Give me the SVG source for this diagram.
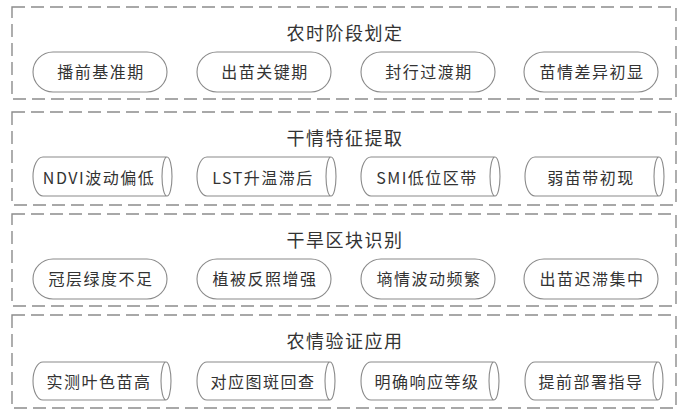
<svg xmlns="http://www.w3.org/2000/svg" width="678" height="411" viewBox="0 0 678 411">
<defs>
<style>
.panel{fill:#ffffff;stroke:#8c8c8c;stroke-width:1.4;stroke-dasharray:13 6}
.pill{fill:#ffffff;stroke:#8a8a8a;stroke-width:1.1}
.cyl{fill:#ffffff;stroke:#8a8a8a;stroke-width:1.1}
.title{font-family:"Noto Sans CJK SC","Noto Sans",sans-serif;font-size:18px;fill:#333333;text-anchor:middle;letter-spacing:1.5px}
.lbl{font-family:"Noto Sans CJK SC","Noto Sans",sans-serif;font-size:16px;fill:#333333;text-anchor:middle;letter-spacing:1.5px}
</style>
</defs>
<rect width="678" height="411" fill="#ffffff"/>
<g id="connectors"></g>

<g id="panel1">
<rect class="panel" x="12" y="7" width="664" height="92"/>
<text class="title" x="345" y="40">农时阶段划定</text>
</g>
<g id="p1n1"><rect class="pill" x="33" y="52" width="134" height="40" rx="20"/><text class="lbl" x="101" y="78">播前基准期</text></g>
<g id="p1n2"><rect class="pill" x="197" y="52" width="134" height="40" rx="20"/><text class="lbl" x="265" y="78">出苗关键期</text></g>
<g id="p1n3"><rect class="pill" x="361" y="52" width="134" height="40" rx="20"/><text class="lbl" x="429" y="78">封行过渡期</text></g>
<g id="p1n4"><rect class="pill" x="524" y="52" width="134" height="40" rx="20"/><text class="lbl" x="592" y="78">苗情差异初显</text></g>

<g id="panel2">
<rect class="panel" x="12" y="112" width="664" height="93"/>
<text class="title" x="345" y="145">干情特征提取</text>
</g>
<g id="p2n1"><path class="cyl" d="M43,157 L167,157 A5,19.5 0 0 1 167,196 L43,196 A10,19.5 0 0 1 43,157 Z M167,157 A5,19.5 0 0 0 167,196"/><text class="lbl" x="99" y="184">NDVI波动偏低</text></g>
<g id="p2n2"><path class="cyl" d="M207,157 L331,157 A5,19.5 0 0 1 331,196 L207,196 A10,19.5 0 0 1 207,157 Z M331,157 A5,19.5 0 0 0 331,196"/><text class="lbl" x="263" y="184">LST升温滞后</text></g>
<g id="p2n3"><path class="cyl" d="M371,157 L495,157 A5,19.5 0 0 1 495,196 L371,196 A10,19.5 0 0 1 371,157 Z M495,157 A5,19.5 0 0 0 495,196"/><text class="lbl" x="427" y="184">SMI低位区带</text></g>
<g id="p2n4"><path class="cyl" d="M535,157 L659,157 A5,19.5 0 0 1 659,196 L535,196 A10,19.5 0 0 1 535,157 Z M659,157 A5,19.5 0 0 0 659,196"/><text class="lbl" x="591" y="184">弱苗带初现</text></g>

<g id="panel3">
<rect class="panel" x="12" y="214" width="664" height="92"/>
<text class="title" x="345" y="247">干旱区块识别</text>
</g>
<g id="p3n1"><rect class="pill" x="33" y="259" width="134" height="40" rx="20"/><text class="lbl" x="101" y="285">冠层绿度不足</text></g>
<g id="p3n2"><rect class="pill" x="197" y="259" width="134" height="40" rx="20"/><text class="lbl" x="265" y="285">植被反照增强</text></g>
<g id="p3n3"><rect class="pill" x="361" y="259" width="134" height="40" rx="20"/><text class="lbl" x="429" y="285">墒情波动频繁</text></g>
<g id="p3n4"><rect class="pill" x="524" y="259" width="134" height="40" rx="20"/><text class="lbl" x="592" y="285">出苗迟滞集中</text></g>

<g id="panel4">
<rect class="panel" x="12" y="315" width="664" height="93"/>
<text class="title" x="345" y="348">农情验证应用</text>
</g>
<g id="p4n1"><path class="cyl" d="M43,362 L166,362 A5,19 0 0 1 166,400 L43,400 A10,19 0 0 1 43,362 Z M166,362 A5,19 0 0 0 166,400"/><text class="lbl" x="99" y="388">实测叶色苗高</text></g>
<g id="p4n2"><path class="cyl" d="M207,362 L330,362 A5,19 0 0 1 330,400 L207,400 A10,19 0 0 1 207,362 Z M330,362 A5,19 0 0 0 330,400"/><text class="lbl" x="263" y="388">对应图斑回查</text></g>
<g id="p4n3"><path class="cyl" d="M371,362 L494,362 A5,19 0 0 1 494,400 L371,400 A10,19 0 0 1 371,362 Z M494,362 A5,19 0 0 0 494,400"/><text class="lbl" x="427" y="388">明确响应等级</text></g>
<g id="p4n4"><path class="cyl" d="M535,362 L658,362 A5,19 0 0 1 658,400 L535,400 A10,19 0 0 1 535,362 Z M658,362 A5,19 0 0 0 658,400"/><text class="lbl" x="591" y="388">提前部署指导</text></g>
</svg>
